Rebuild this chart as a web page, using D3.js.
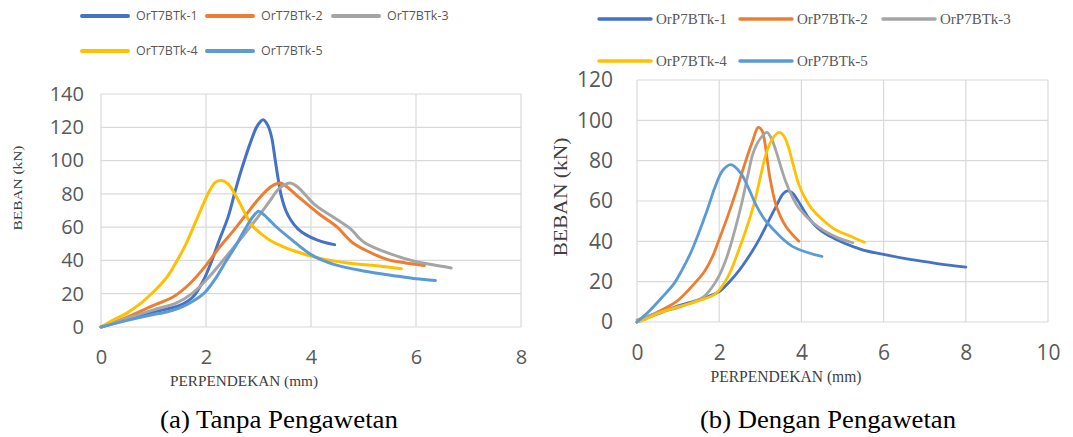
<!DOCTYPE html>
<html>
<head>
<meta charset="utf-8">
<script src="https://cdn.jsdelivr.net/npm/d3@7"></script>
<style>
  body { margin: 0; background: #fff; }
  svg { display: block; }
</style>
</head>
<body>
<svg id="chart" width="1073" height="437"></svg>
<script>
// ---- data: left chart (a) Tanpa Pengawetan ----
var namesA = ["OrT7BTk-1", "OrT7BTk-2", "OrT7BTk-3", "OrT7BTk-4", "OrT7BTk-5"];
var t1 = [[0,0],[0.5,4.5],[1,9],[1.5,13],[1.75,18],[1.95,28],[2.1,39],[2.25,52],[2.42,66],[2.55,81],[2.67,94],[2.86,112],[2.98,121],[3.09,124.5],[3.18,121],[3.25,114],[3.32,100],[3.38,88],[3.44,78],[3.52,70],[3.62,64],[3.75,59],[3.9,55.5],[4.1,52.5],[4.3,50.5],[4.45,49.5]];
var t2 = [[0,0],[0.5,6],[1,13],[1.37,18],[1.69,26],[2,37],[2.26,48],[2.5,57],[2.75,67],[2.95,75],[3.15,82],[3.3,85.5],[3.42,86.5],[3.55,84],[3.75,78.5],[4.13,68.5],[4.5,60],[4.65,55],[4.8,50.5],[5.08,45.5],[5.46,40.5],[5.8,38.5],[6.16,37]];
var t3 = [[0,0],[0.5,5.3],[1,10.3],[1.43,14.3],[1.75,20.5],[2.07,30.5],[2.39,42.5],[2.7,54.5],[3,66.5],[3.2,75],[3.37,82.5],[3.5,85.5],[3.6,86.5],[3.75,84],[4.07,73.5],[4.45,65.5],[4.77,58.5],[4.9,54],[5.03,50.5],[5.46,44.5],[5.97,39.5],[6.3,37.5],[6.67,35.5]];
var t4 = [[0,0],[0.25,4.5],[0.5,8.5],[0.75,14],[0.96,20],[1.12,25],[1.28,31],[1.45,40],[1.62,50],[1.8,63],[1.95,74],[2.07,82],[2.18,87],[2.3,88],[2.42,86],[2.6,77],[2.74,68.5],[2.88,61],[3.05,56],[3.25,51.5],[3.45,48.5],[3.7,45.5],[4.07,42],[4.7,38.5],[5.34,36.5],[5.72,35]];
var t5 = [[0,0],[0.5,4],[1,7.5],[1.25,9],[1.5,11.5],[1.75,15.5],[1.97,20.5],[2.2,30],[2.36,38.5],[2.55,48],[2.74,58.5],[2.9,66.5],[3,69.5],[3.1,67.5],[3.2,64.5],[3.31,61],[3.63,52.5],[4,43.5],[4.45,37.5],[5.03,33.5],[5.66,30.5],[6,29],[6.37,28]];
var xTicksA = [0, 2, 4, 6, 8];
var yTicksA = [0, 20, 40, 60, 80, 100, 120, 140];

// ---- data: right chart (b) Dengan Pengawetan ----
var namesB = ["OrP7BTk-1", "OrP7BTk-2", "OrP7BTk-3", "OrP7BTk-4", "OrP7BTk-5"];
var p1 = [[0,0],[0.5,4],[1,8],[1.5,11],[1.99,15],[2.25,20],[2.5,26],[2.8,35],[3,42],[3.2,50],[3.4,58],[3.55,63.5],[3.66,65],[3.78,64],[3.92,60],[4.18,51.5],[4.4,46.5],[4.65,43],[5.45,36],[6,33.5],[6.64,31],[7.3,29],[8,27.2]];
var p2 = [[0,0],[0.5,5],[0.95,10],[1.26,16],[1.64,25],[1.85,33],[2,41],[2.2,52],[2.4,64],[2.6,77],[2.8,89],[2.95,96.5],[3.04,95],[3.11,89],[3.23,72],[3.39,57.5],[3.62,47.5],[3.94,40]];
var p3 = [[0,1],[0.5,4.5],[1.05,7.5],[1.62,12.5],[1.8,16.5],[2,23],[2.2,33],[2.4,47],[2.55,59],[2.7,73],[2.83,84],[3,91],[3.16,94],[3.27,91],[3.38,85],[3.5,77],[3.62,69.5],[3.78,62],[3.94,56.5],[4.42,47],[4.89,41.7],[5.25,39.3]];
var p4 = [[0,0],[0.1,0.5],[0.61,5],[1,7.5],[1.42,10],[1.91,14],[2.2,22],[2.5,37],[2.84,58],[3.15,84],[3.3,91],[3.47,94],[3.58,92],[3.68,87],[3.8,78],[3.94,68],[4.1,61],[4.26,56],[4.5,51],[4.81,46],[5.2,42.5],[5.53,39.5]];
var p5 = [[0,0],[0.3,5.5],[0.6,12],[0.9,19],[1.1,26],[1.3,34],[1.5,44],[1.7,55],[1.9,67],[2.08,75],[2.28,78],[2.52,74],[2.7,67],[2.91,57.5],[3.1,51],[3.31,46],[3.78,37.5],[4.5,32.5]];
var xTicksB = [0, 2, 4, 6, 8, 10];
var yTicksB = [0, 20, 40, 60, 80, 100, 120];

var colors = ["#4472C4", "#ED7D31", "#A5A5A5", "#FFC000", "#5B9BD5"];

var svg = d3.select("#chart");

function drawChart(c) {
  var x = d3.scaleLinear().domain(c.xDomain).range([c.left, c.right]);
  var y = d3.scaleLinear().domain(c.yDomain).range([c.bottom, c.top]);
  var g = svg.append("g");

  // gridlines
  g.selectAll(".hgrid").data(c.yTicks).enter().append("line")
    .attr("x1", c.left).attr("x2", c.right)
    .attr("y1", function(d){ return y(d); }).attr("y2", function(d){ return y(d); })
    .attr("stroke", "#d9d9d9").attr("stroke-width", 1.2);
  g.selectAll(".vgrid").data(c.xTicks).enter().append("line")
    .attr("y1", c.top).attr("y2", c.bottom)
    .attr("x1", function(d){ return x(d); }).attr("x2", function(d){ return x(d); })
    .attr("stroke", "#d9d9d9").attr("stroke-width", 1.2);

  // axes (labels only)
  var ya = g.append("g").attr("transform", "translate(" + (c.left - c.yLabelGap) + ",0)")
    .call(d3.axisLeft(y).tickValues(c.yTicks).tickSize(0).tickPadding(0));
  var xa = g.append("g").attr("transform", "translate(0," + (c.bottom + c.xLabelGap) + ")")
    .call(d3.axisBottom(x).tickValues(c.xTicks).tickSize(0).tickPadding(0));
  [ya, xa].forEach(function(a){
    a.select(".domain").remove();
    a.selectAll("text").attr("fill", "#595959")
      .style("font-family", "'Open Sans', sans-serif").style("font-size", c.tickFont + "px");
  });

  // series
  var line = d3.line()
    .x(function(d){ return x(d[0]); })
    .y(function(d){ return y(d[1]); })
    .curve(d3.curveCatmullRom.alpha(0.5));
  g.selectAll(".series").data(c.series).enter().append("path")
    .attr("d", function(d){ return line(d); })
    .attr("fill", "none")
    .attr("stroke", function(d, i){ return colors[i]; })
    .attr("stroke-width", c.lineWidth)
    .attr("stroke-linecap", "round")
    .attr("stroke-linejoin", "round");

  // axis titles
  g.append("text").text("PERPENDEKAN (mm)")
    .attr("x", c.xTitle[0]).attr("y", c.xTitle[1])
    .attr("textLength", c.xTitle[2]).attr("lengthAdjust", "spacingAndGlyphs")
    .attr("text-anchor", "middle").attr("fill", "#404040")
    .style("font-family", "'Liberation Serif', serif").style("font-size", c.xTitle[3] + "px");
  g.append("text").text("BEBAN (kN)")
    .attr("transform", "translate(" + c.yTitle[0] + "," + c.yTitle[1] + ") rotate(-90)")
    .attr("textLength", c.yTitle[2]).attr("lengthAdjust", "spacingAndGlyphs")
    .attr("text-anchor", "middle").attr("fill", "#404040")
    .style("font-family", "'Liberation Serif', serif").style("font-size", c.yTitle[3] + "px");

  // legend
  var leg = g.selectAll(".leg").data(c.names).enter().append("g")
    .attr("transform", function(d, i){
      return "translate(" + c.legX[i % 3] + "," + c.legY[Math.floor(i / 3)] + ")";
    });
  leg.append("line").attr("x1", 0).attr("x2", c.legLine).attr("y1", 0).attr("y2", 0)
    .attr("stroke", function(d, i){ return colors[i]; }).attr("stroke-width", c.legWidth)
    .attr("stroke-linecap", "round");
  leg.append("text").text(function(d){ return d; })
    .attr("x", c.legLine + c.legGap).attr("y", 0).attr("dy", "0.35em")
    .attr("fill", "#595959")
    .style("font-family", c.legFont).style("font-size", c.legSize + "px");

  // caption
  g.append("text").text(c.caption)
    .attr("x", c.capX).attr("y", 428)
    .attr("textLength", c.capLen).attr("lengthAdjust", "spacingAndGlyphs")
    .attr("text-anchor", "middle").attr("fill", "#000")
    .style("font-family", "'Liberation Serif', serif").style("font-size", "25px");
}

drawChart({
  xDomain: [0, 8], yDomain: [0, 140], left: 101, right: 521, top: 94, bottom: 327,
  xTicks: xTicksA, yTicks: yTicksA, series: [t1, t2, t3, t4, t5], names: namesA,
  yLabelGap: 17, xLabelGap: 23, tickFont: 20, lineWidth: 3,
  xTitle: [244, 386, 148, 14], yTitle: [22, 188, 85, 13],
  legX: [82, 207, 333], legY: [16, 51], legLine: 46, legGap: 8, legWidth: 4,
  legFont: "'Open Sans', sans-serif", legSize: 12.5,
  caption: "(a) Tanpa Pengawetan", capX: 279, capLen: 238
});

drawChart({
  xDomain: [0, 10], yDomain: [0, 120], left: 637, right: 1048, top: 80, bottom: 322,
  xTicks: xTicksB, yTicks: yTicksB, series: [p1, p2, p3, p4, p5], names: namesB,
  yLabelGap: 24, xLabelGap: 23, tickFont: 21, lineWidth: 2.8,
  xTitle: [786, 382, 151, 16], yTitle: [567, 197, 119, 18],
  legX: [599, 740, 883], legY: [19, 61], legLine: 52, legGap: 5, legWidth: 3.5,
  legFont: "'Liberation Serif', serif", legSize: 15,
  caption: "(b) Dengan Pengawetan", capX: 828, capLen: 256
});
</script>
</body>
</html>
